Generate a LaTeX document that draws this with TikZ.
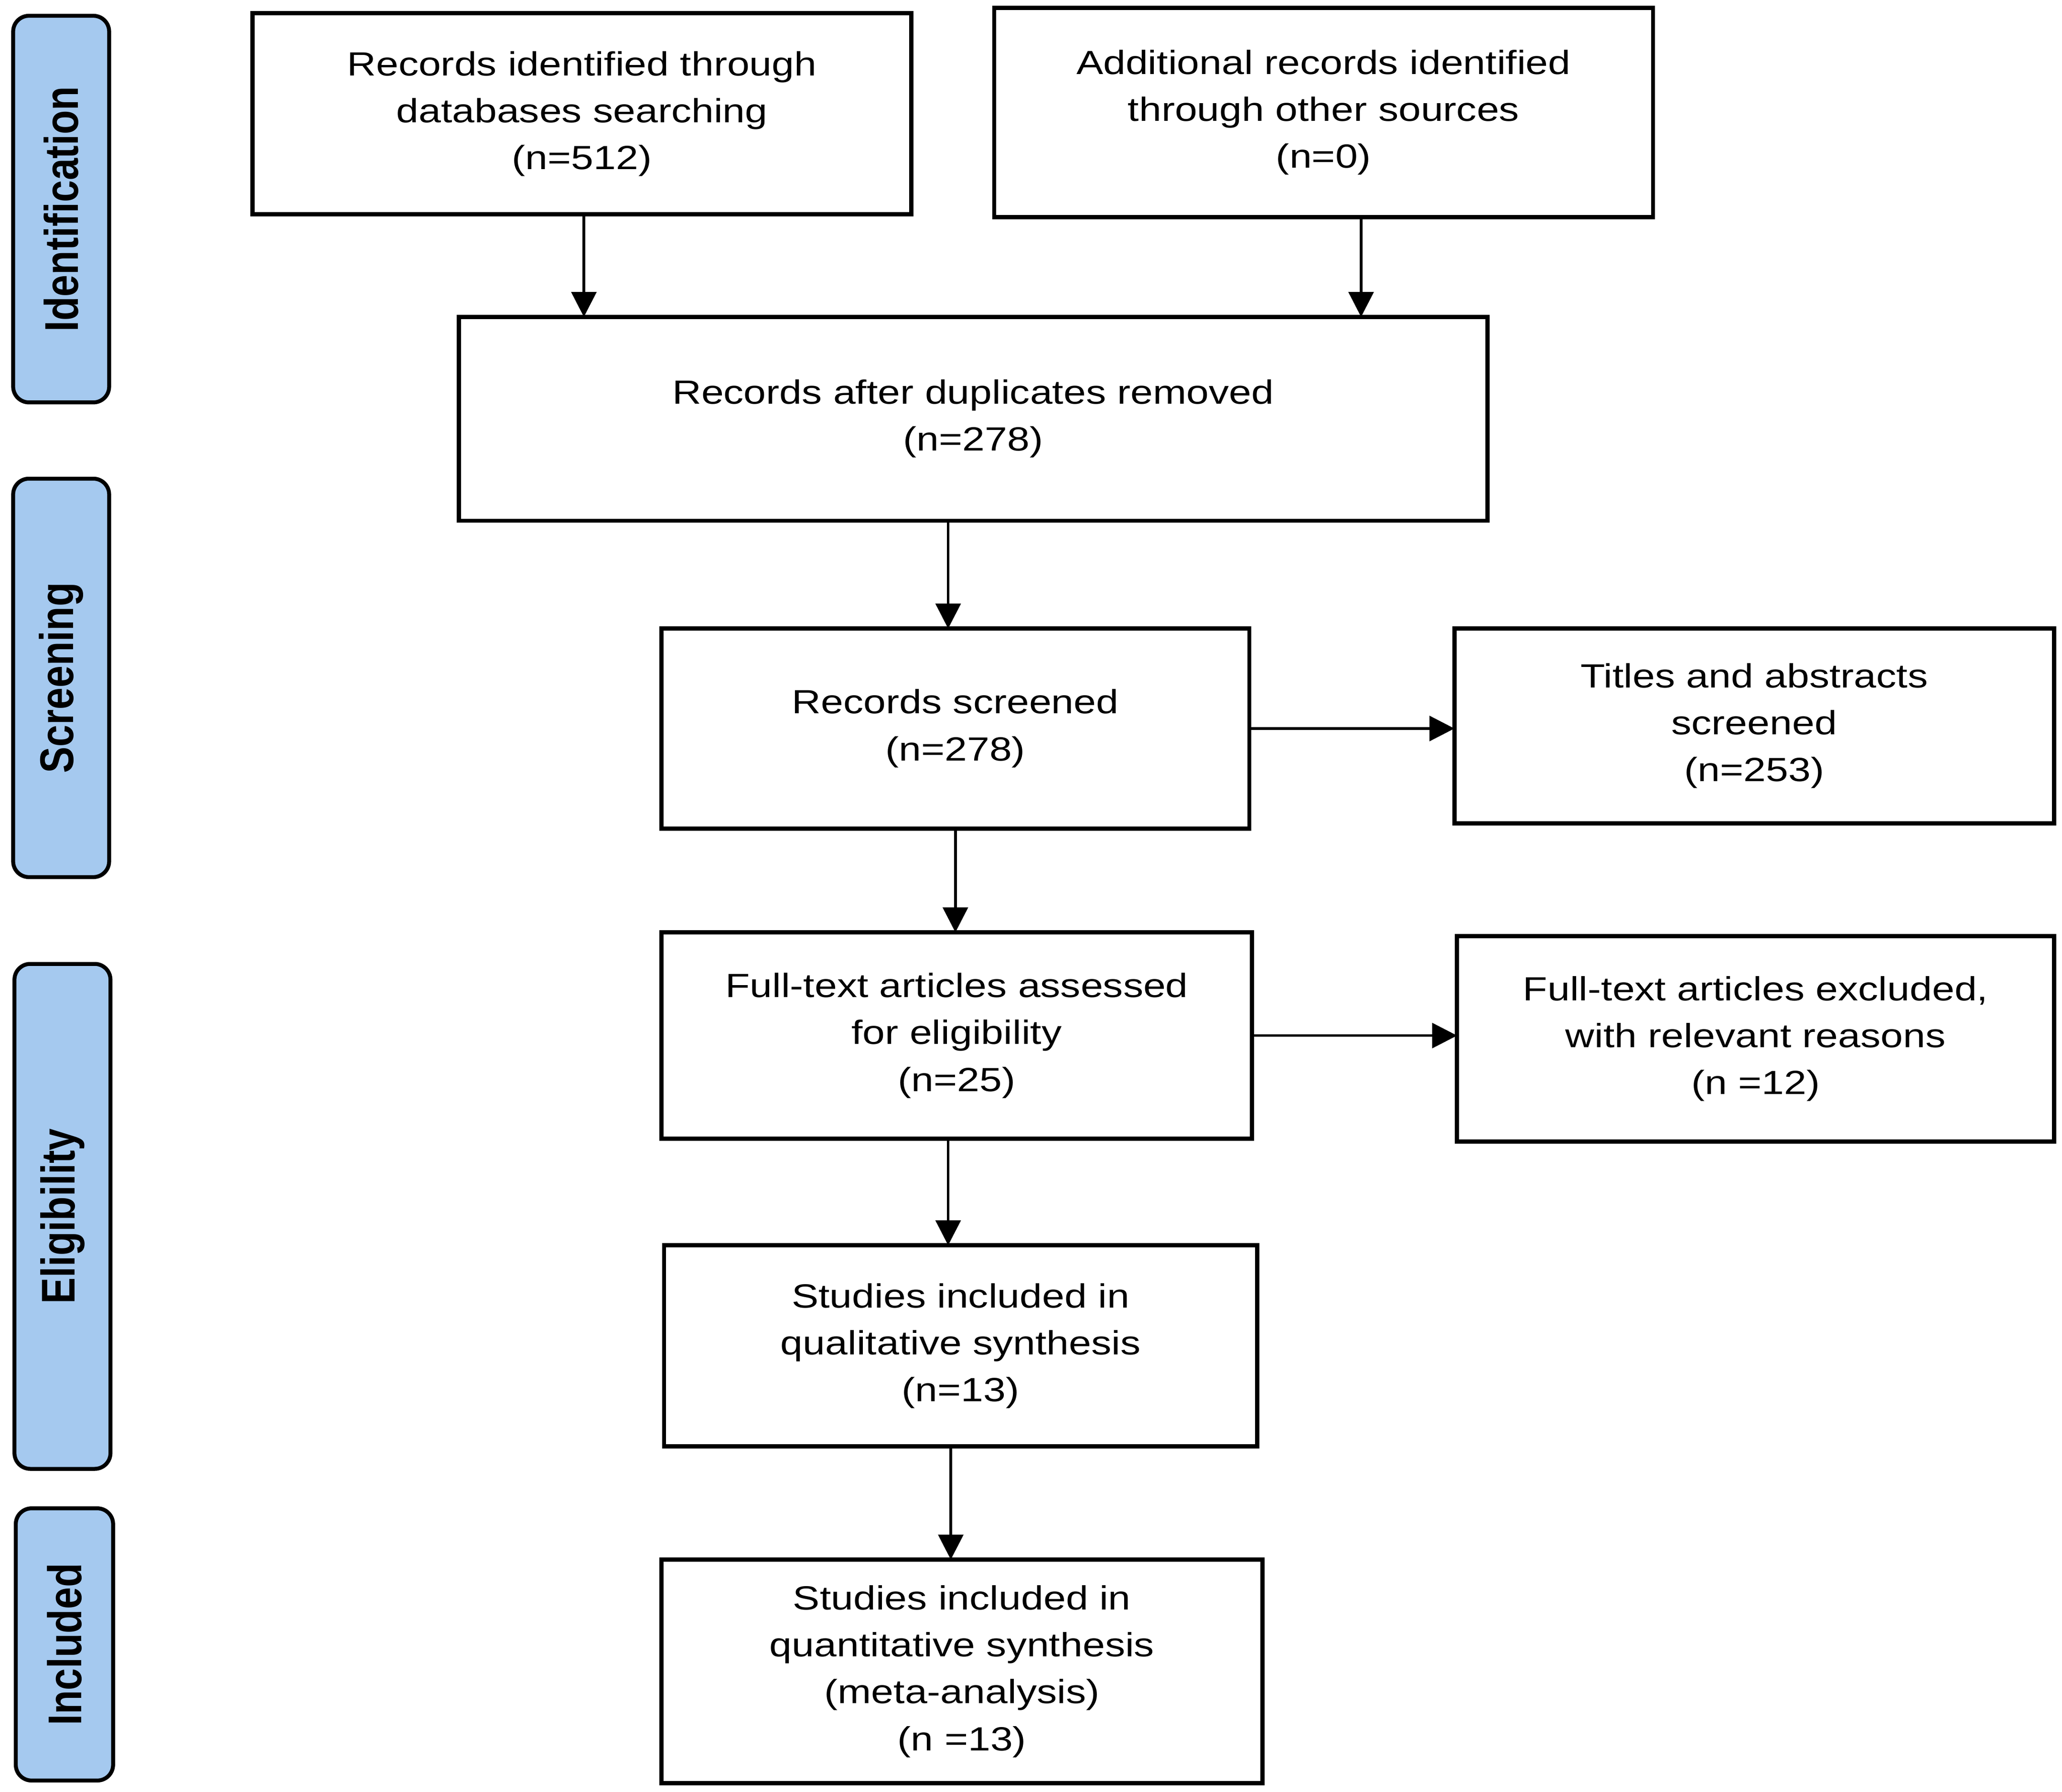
\documentclass[tikz,border=0pt]{standalone}
\usepackage{fontspec}
\usepackage{graphicx}
\newfontfamily\boxfont{Liberation Sans}[FakeStretch=1.2]
\newfontfamily\labelfont{Liberation Sans}
\usetikzlibrary{arrows.meta}
\definecolor{phasefill}{RGB}{165,201,239}
\begin{document}
\begin{tikzpicture}[x=1pt,y=-1pt,
  stagebox/.style={draw=black, line width=3.2pt, fill=white, align=center,
    inner sep=0pt, outer sep=0pt,
    font=\boxfont\fontsize{25.5}{35.7}\selectfont},
  phasebox/.style={draw=black, line width=3pt, fill=phasefill, rounded corners=12pt,
    rotate=90, inner sep=0pt, outer sep=0pt},
  flow/.style={line width=2pt, -{Triangle[length=19pt,width=19pt]}}
]
\useasboundingbox (0,0) rectangle (1568,1362.4);

% phase labels
\node[phasebox, minimum width=294pt, minimum height=73pt] (s1) at (46.5,159)
  {\scalebox{1}[1.2]{\labelfont\bfseries\fontsize{30}{36}\selectfont Identification}};
\node[phasebox, minimum width=303pt, minimum height=73pt] (s2) at (46.5,515.5)
  {\scalebox{1}[1.2]{\labelfont\bfseries\fontsize{30}{36}\selectfont Screening}};
\node[phasebox, minimum width=384pt, minimum height=73pt] (s3) at (47.5,925)
  {\scalebox{1}[1.2]{\labelfont\bfseries\fontsize{30}{36}\selectfont Eligibility}};
\node[phasebox, minimum width=207pt, minimum height=74pt] (s4) at (49,1250.5)
  {\scalebox{1}[1.2]{\labelfont\bfseries\fontsize{30}{36}\selectfont Included}};

% boxes
\node[stagebox, minimum width=501pt, minimum height=153pt] (b1) at (442.5,86.5)
  {Records identified through\\databases searching\\(n=512)};
\node[stagebox, minimum width=501pt, minimum height=159pt] (b2) at (1006.5,85.5)
  {Additional records identified\\through other sources\\(n=0)};
\node[stagebox, minimum width=782pt, minimum height=155pt] (b3) at (740,318.5)
  {Records after duplicates removed\\(n=278)};
\node[stagebox, minimum width=447pt, minimum height=152pt] (b4) at (726.5,554)
  {Records screened\\(n=278)};
\node[stagebox, minimum width=456pt, minimum height=148pt] (b5) at (1334,552)
  {Titles and abstracts\\screened\\(n=253)};
\node[stagebox, minimum width=449pt, minimum height=157pt] (b6) at (727.5,787.5)
  {Full-text articles assessed\\for eligibility\\(n=25)};
\node[stagebox, minimum width=454pt, minimum height=156pt] (b7) at (1335,790)
  {Full-text articles excluded,\\with relevant reasons\\(n =12)};
\node[stagebox, minimum width=451pt, minimum height=153pt] (b8) at (730.5,1023.5)
  {Studies included in\\qualitative synthesis\\(n=13)};
\node[stagebox, minimum width=457pt, minimum height=170pt] (b9) at (731.5,1271)
  {Studies included in\\quantitative synthesis\\(meta-analysis)\\(n =13)};

% connectors
\draw[flow] ([xshift=1.5pt]b1.south) -- ([xshift=1.5pt]b1.south |- b3.north);
\draw[flow] ([xshift=28.5pt]b2.south) -- ([xshift=28.5pt]b2.south |- b3.north);
\draw[flow] ([xshift=-5.5pt]b4.north |- b3.south) -- ([xshift=-5.5pt]b4.north);
\draw[flow] (b4.east) -- (b4.east -| b5.west);
\draw[flow] (b4.south) -- (b4.south |- b6.north);
\draw[flow] (b6.east) -- (b6.east -| b7.west);
\draw[flow] ([xshift=-6.5pt]b6.south) -- ([xshift=-6.5pt]b6.south |- b8.north);
\draw[flow] ([xshift=-7.5pt]b8.south) -- ([xshift=-7.5pt]b8.south |- b9.north);
\end{tikzpicture}
\end{document}
